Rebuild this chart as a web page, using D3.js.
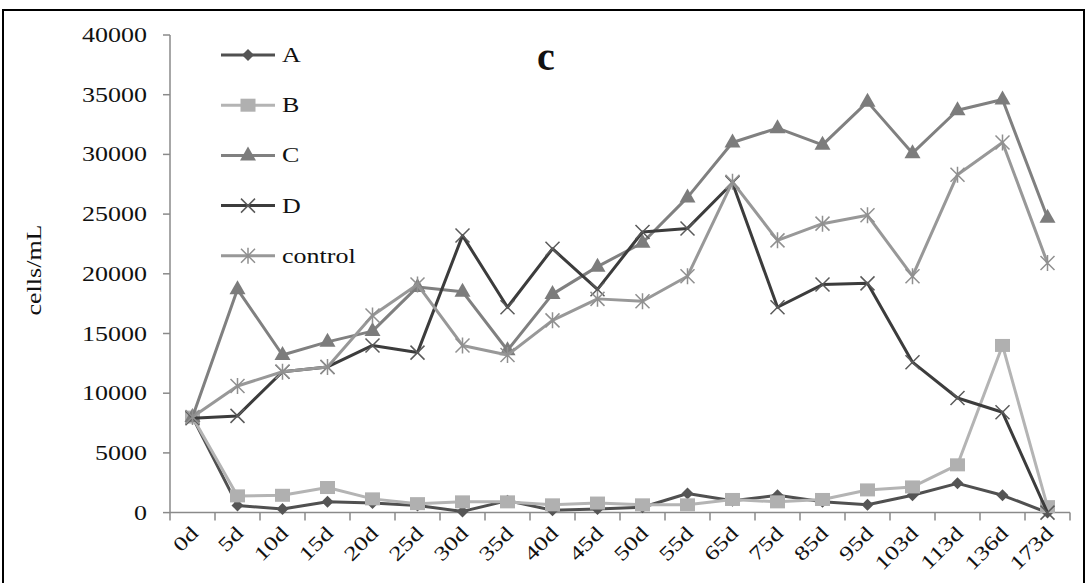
<!DOCTYPE html>
<html>
<head>
<meta charset="utf-8">
<script src="https://cdn.jsdelivr.net/npm/d3@7"></script>
<style>
  html, body { margin: 0; padding: 0; background: #fff; }
  svg { display: block; }
  text { font-family: "Liberation Serif", "Times New Roman", serif; fill: #111; }
</style>
</head>
<body>
<svg id="chart" width="1086" height="583"></svg>
<script>
// Sampling days (x categories)
const categories = ["0d","5d","10d","15d","20d","25d","30d","35d","40d","45d","50d",
                    "55d","65d","75d","85d","95d","103d","113d","136d","173d"];

// Cell densities, cells/mL
const seriesA = [8000, 600, 300, 900, 800, 600, 100, 1000, 200, 300, 450,
                 1600, 1000, 1450, 900, 650, 1450, 2450, 1450, 0];
const seriesB = [8000, 1400, 1450, 2100, 1150, 750, 900, 900, 650, 800, 650,
                 650, 1100, 900, 1100, 1900, 2150, 4000, 14000, 500];
const seriesC = [8000, 18700, 13200, 14300, 15200, 18900, 18500, 13600, 18300, 20600, 22600,
                 26400, 31000, 32200, 30800, 34400, 30100, 33700, 34600, 24700];
const seriesD = [7900, 8100, 11800, 12200, 14000, 13400, 23200, 17200, 22100, 18700, 23500,
                 23800, 27600, 17200, 19100, 19200, 12600, 9600, 8400, 0];
const seriesControl = [8000, 10600, 11800, 12200, 16500, 19100, 14000, 13200, 16100, 17900, 17700,
                       19800, 27700, 22800, 24200, 24900, 19800, 28300, 31000, 20900];

const seriesNames = ["A", "B", "C", "D", "control"];
const yTicks = [0, 5000, 10000, 15000, 20000, 25000, 30000, 35000, 40000];

const series = [
  { name: "A",       values: seriesA,       line: "#505050", fill: "#555555", marker: "diamond" },
  { name: "B",       values: seriesB,       line: "#b4b4b4", fill: "#b0b0b0", marker: "square" },
  { name: "C",       values: seriesC,       line: "#808080", fill: "#7c7c7c", marker: "triangle" },
  { name: "D",       values: seriesD,       line: "#3c3c3c", fill: "#5a5a5a", marker: "cross" },
  { name: "control", values: seriesControl, line: "#989898", fill: "#909090", marker: "star" }
];

const svg = d3.select("#chart");
// Glyphs are set wide: stretch every label along its own baseline
const TEXT_STRETCH = 1.3;

// Outer frame
svg.append("rect")
  .attr("x", 3).attr("y", 10).attr("width", 1081).attr("height", 600)
  .attr("fill", "none").attr("stroke", "#000").attr("stroke-width", 2);

const x = d3.scaleBand().domain(categories).range([170, 1070]).padding(0);
const y = d3.scaleLinear().domain([0, 40000]).range([512.6, 35]);

const axisColor = "#8a8a8a";

// Y axis
const yAxis = svg.append("g").attr("class", "y-axis");
yAxis.append("line")
  .attr("x1", 170).attr("x2", 170)
  .attr("y1", y(40000)).attr("y2", y(0))
  .attr("stroke", axisColor).attr("stroke-width", 1.5);
yAxis.selectAll("line.tick").data(yTicks).join("line")
  .attr("class", "tick")
  .attr("x1", 163).attr("x2", 170)
  .attr("y1", d => y(d)).attr("y2", d => y(d))
  .attr("stroke", axisColor).attr("stroke-width", 1.5);
yAxis.selectAll("text").data(yTicks).join("text")
  .attr("transform", d => `translate(147,${y(d) + 7}) scale(${TEXT_STRETCH},1)`)
  .attr("text-anchor", "end")
  .style("font-size", "20px")
  .text(d => d);

// X axis
const xAxis = svg.append("g").attr("class", "x-axis");
xAxis.append("line")
  .attr("x1", x.range()[0]).attr("x2", x.range()[1])
  .attr("y1", y(0)).attr("y2", y(0))
  .attr("stroke", axisColor).attr("stroke-width", 1.5);
const boundaries = categories.map(c => x(c)).concat([x(categories[categories.length - 1]) + x.bandwidth()]);
xAxis.selectAll("line.tick").data(boundaries).join("line")
  .attr("class", "tick")
  .attr("x1", d => d).attr("x2", d => d)
  .attr("y1", y(0)).attr("y2", y(0) + 8)
  .attr("stroke", axisColor).attr("stroke-width", 1.5);
xAxis.selectAll("text").data(categories).join("text")
  .attr("transform", d => `translate(${x(d) + x.bandwidth() / 2 + 7},${y(0) + 22}) rotate(-45) scale(${TEXT_STRETCH},1)`)
  .attr("text-anchor", "end")
  .style("font-size", "20px")
  .text(d => d);

// Y axis title
svg.append("text")
  .attr("transform", "translate(41,270) rotate(-90) scale(1.3,1)")
  .attr("text-anchor", "middle")
  .style("font-size", "20px")
  .text("cells/mL");

// Panel letter
svg.append("text")
  .attr("x", 546).attr("y", 70)
  .attr("text-anchor", "middle")
  .style("font-size", "40px").style("font-weight", "bold")
  .text("c");

// Marker drawing
function drawMarker(g, type, cx, cy, s) {
  if (type === "diamond") {
    g.append("path")
      .attr("d", `M${cx},${cy - 6} L${cx + 6},${cy} L${cx},${cy + 6} L${cx - 6},${cy} Z`)
      .attr("fill", s.fill);
  } else if (type === "square") {
    g.append("rect")
      .attr("x", cx - 7.5).attr("y", cy - 6.5).attr("width", 15).attr("height", 13)
      .attr("fill", s.fill);
  } else if (type === "triangle") {
    g.append("path")
      .attr("d", `M${cx},${cy - 9} L${cx + 8},${cy + 5} L${cx - 8},${cy + 5} Z`)
      .attr("fill", s.fill);
  } else if (type === "cross") {
    g.append("path")
      .attr("d", `M${cx - 7},${cy - 7} L${cx + 7},${cy + 7} M${cx - 7},${cy + 7} L${cx + 7},${cy - 7}`)
      .attr("stroke", s.fill).attr("stroke-width", 1.5).attr("fill", "none");
  } else if (type === "star") {
    g.append("path")
      .attr("d", `M${cx - 7},${cy - 7} L${cx + 7},${cy + 7} M${cx - 7},${cy + 7} L${cx + 7},${cy - 7} M${cx},${cy - 8} L${cx},${cy + 8}`)
      .attr("stroke", s.fill).attr("stroke-width", 1.5).attr("fill", "none");
  }
}

const line = d3.line()
  .x((d, i) => x(categories[i]) + x.bandwidth() / 2)
  .y(d => y(d));

// Series, drawn in legend order so later ones sit on top
series.forEach(s => {
  const g = svg.append("g").attr("class", "series-" + s.name);
  g.append("path")
    .attr("d", line(s.values))
    .attr("fill", "none")
    .attr("stroke", s.line)
    .attr("stroke-width", 3)
    .attr("stroke-linejoin", "round");
  s.values.forEach((v, i) => {
    drawMarker(g, s.marker, x(categories[i]) + x.bandwidth() / 2, y(v), s);
  });
});

// Legend
const legend = svg.append("g").attr("class", "legend");
series.forEach((s, i) => {
  const ly = 55 + i * 50.2;
  legend.append("line")
    .attr("x1", 221).attr("x2", 275)
    .attr("y1", ly).attr("y2", ly)
    .attr("stroke", s.line).attr("stroke-width", 3);
  drawMarker(legend, s.marker, 248, ly, s);
  legend.append("text")
    .attr("transform", `translate(282,${ly + 7}) scale(${TEXT_STRETCH},1)`)
    .style("font-size", "20px")
    .text(seriesNames[i]);
});
</script>
</body>
</html>
